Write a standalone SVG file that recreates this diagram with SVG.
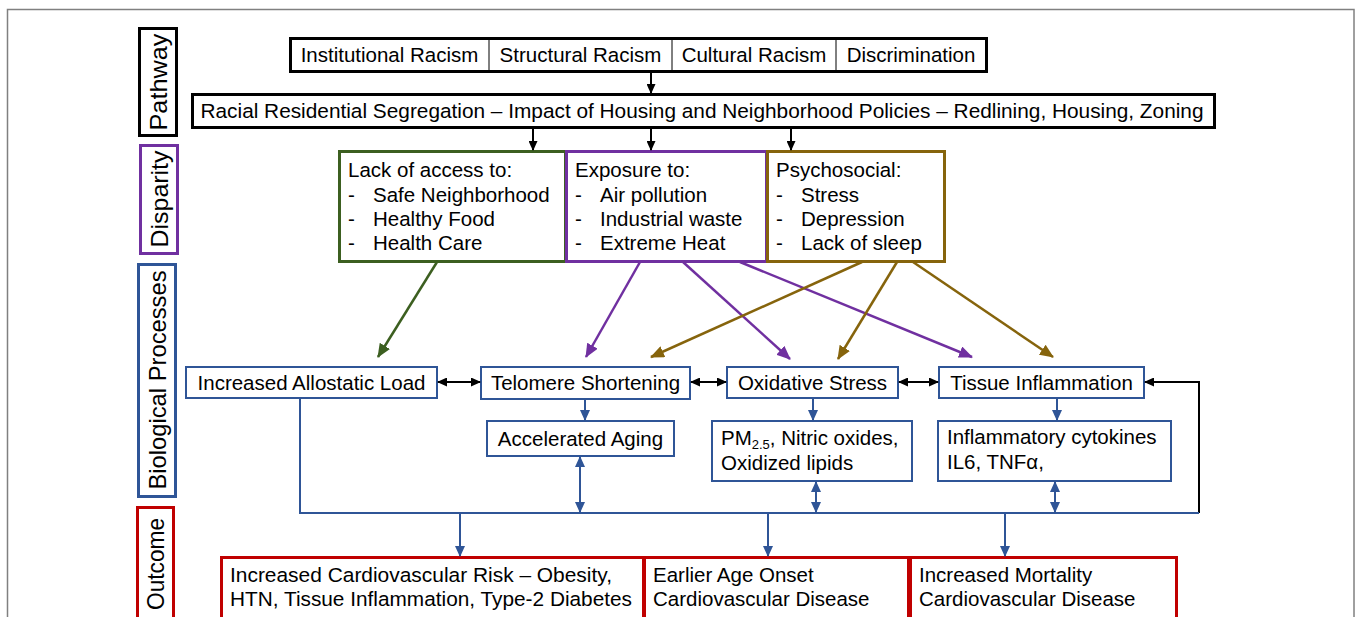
<svg xmlns="http://www.w3.org/2000/svg" width="1359" height="617" viewBox="0 0 1359 617">
<style>
text{font-family:"Liberation Sans",Arial,sans-serif;font-size:20.5px;fill:#000}
.lab{font-size:24px}
.bk{fill:#fff;stroke:#000;stroke-width:3}
.pu{fill:#fff;stroke:#7030a0;stroke-width:3}
.gr{fill:#fff;stroke:#3c5f20;stroke-width:3}
.go{fill:#fff;stroke:#86640c;stroke-width:3}
.bl{fill:#fff;stroke:#2f5597;stroke-width:2}
.bl3{fill:#fff;stroke:#2f5597;stroke-width:3}
.rd{fill:#fff;stroke:#c00000;stroke-width:3}
.c{text-anchor:middle}
.lk{fill:none;stroke:#000;stroke-width:2}
.lb{fill:none;stroke:#2f5597;stroke-width:2}
.lp{fill:none;stroke:#7030a0;stroke-width:2.5}
.lg{fill:none;stroke:#3c5f20;stroke-width:2.5}
.lo{fill:none;stroke:#86640c;stroke-width:2.5}
</style>
<defs>
<marker id="ak" markerUnits="userSpaceOnUse" markerWidth="10" markerHeight="9" refX="9" refY="4.5" orient="auto-start-reverse"><path d="M0,0 L10,4.5 L0,9 z" fill="#000"/></marker>
<marker id="ab" markerUnits="userSpaceOnUse" markerWidth="11" markerHeight="10" refX="10" refY="5" orient="auto-start-reverse"><path d="M0,0 L11,5 L0,10 z" fill="#2f5597"/></marker>
<marker id="ap" markerUnits="userSpaceOnUse" markerWidth="14" markerHeight="12" refX="13" refY="6" orient="auto"><path d="M0,0 L14,6 L0,12 z" fill="#7030a0"/></marker>
<marker id="ag" markerUnits="userSpaceOnUse" markerWidth="14" markerHeight="12" refX="13" refY="6" orient="auto"><path d="M0,0 L14,6 L0,12 z" fill="#3c5f20"/></marker>
<marker id="ao" markerUnits="userSpaceOnUse" markerWidth="14" markerHeight="12" refX="13" refY="6" orient="auto"><path d="M0,0 L14,6 L0,12 z" fill="#86640c"/></marker>
</defs>
<rect x="7.5" y="9.5" width="1346.5" height="620" fill="#fff" stroke="#808080" stroke-width="1.5"/>

<g id="label-pathway"><rect class="bk" x="139.5" y="28.5" width="37" height="107"/><text class="c lab" transform="translate(158,82) rotate(-90)" dy="0.36em" textLength="97" lengthAdjust="spacingAndGlyphs">Pathway</text></g>
<g id="label-disparity"><rect class="pu" x="140.5" y="145.5" width="37" height="108"/><text class="c lab" transform="translate(159,199) rotate(-90)" dy="0.36em" textLength="97" lengthAdjust="spacingAndGlyphs">Disparity</text></g>
<g id="label-bio"><rect class="bl3" x="138.5" y="264.5" width="37" height="232"/><text class="c lab" transform="translate(157,380) rotate(-90)" dy="0.36em" textLength="219" lengthAdjust="spacingAndGlyphs">Biological Processes</text></g>
<g id="label-outcome"><rect class="rd" x="137.5" y="507.5" width="36" height="120"/><text class="c lab" transform="translate(155,564) rotate(-90)" dy="0.36em" textLength="92" lengthAdjust="spacingAndGlyphs">Outcome</text></g>

<g id="n-racism">
<rect class="bk" x="290.5" y="38.5" width="696" height="33"/>
<line x1="489" y1="39" x2="489" y2="71" stroke="#000" stroke-width="1"/>
<line x1="672" y1="39" x2="672" y2="71" stroke="#000" stroke-width="1"/>
<line x1="836" y1="39" x2="836" y2="71" stroke="#000" stroke-width="1"/>
<text class="c" x="389.5" y="62">Institutional Racism</text>
<text class="c" x="580.5" y="62">Structural Racism</text>
<text class="c" x="754" y="62">Cultural Racism</text>
<text class="c" x="911" y="62">Discrimination</text>
</g>
<g id="n-segregation">
<rect class="bk" x="192.5" y="94.5" width="1022" height="33"/>
<text class="c" x="702" y="118" textLength="1003" lengthAdjust="spacingAndGlyphs">Racial Residential Segregation – Impact of Housing and Neighborhood Policies – Redlining, Housing, Zoning</text>
</g>

<g id="n-access">
<rect class="gr" x="339.5" y="151.5" width="226" height="110"/>
<text x="348" y="177">Lack of access to:</text>
<text x="348" y="202">-</text><text x="373" y="202">Safe Neighborhood</text>
<text x="348" y="226">-</text><text x="373" y="226">Healthy Food</text>
<text x="348" y="250">-</text><text x="373" y="250">Health Care</text>
</g>
<g id="n-exposure">
<rect class="pu" x="566.5" y="151.5" width="200" height="110"/>
<text x="575" y="177">Exposure to:</text>
<text x="575" y="202">-</text><text x="600" y="202">Air pollution</text>
<text x="575" y="226">-</text><text x="600" y="226">Industrial waste</text>
<text x="575" y="250">-</text><text x="600" y="250">Extreme Heat</text>
</g>
<g id="n-psychosocial">
<rect class="go" x="767.5" y="151.5" width="177" height="110"/>
<text x="776" y="177">Psychosocial:</text>
<text x="776" y="202">-</text><text x="801" y="202">Stress</text>
<text x="776" y="226">-</text><text x="801" y="226">Depression</text>
<text x="776" y="250">-</text><text x="801" y="250">Lack of sleep</text>
</g>

<g id="n-allostatic"><rect class="bl" x="186" y="367" width="251" height="31"/><text class="c" x="311.5" y="390">Increased Allostatic Load</text></g>
<g id="n-telomere"><rect class="bl" x="481" y="367" width="209" height="32"/><text class="c" x="585.5" y="390">Telomere Shortening</text></g>
<g id="n-oxidative"><rect class="bl" x="727" y="367" width="171" height="31"/><text class="c" x="812.5" y="390">Oxidative Stress</text></g>
<g id="n-tissue"><rect class="bl" x="939" y="367" width="205" height="31"/><text class="c" x="1041.5" y="390">Tissue Inflammation</text></g>
<g id="n-aging"><rect class="bl" x="487" y="421" width="187" height="35"/><text class="c" x="580.5" y="446">Accelerated Aging</text></g>
<g id="n-pm"><rect class="bl" x="712" y="421" width="200" height="60"/><text x="721" y="445">PM<tspan font-size="13" dy="4">2.5</tspan><tspan dy="-4">, Nitric oxides,</tspan></text><text x="721" y="470">Oxidized lipids</text></g>
<g id="n-cytokines"><rect class="bl" x="938" y="421" width="233" height="60"/><text x="947" y="444">Inflammatory cytokines</text><text x="947" y="469">IL6, TNFα,</text></g>

<g id="n-risk"><rect class="rd" x="221.5" y="557.5" width="422" height="70"/><text x="230" y="582" textLength="382" lengthAdjust="spacingAndGlyphs">Increased Cardiovascular Risk – Obesity,</text><text x="230" y="606" textLength="402" lengthAdjust="spacingAndGlyphs">HTN, Tissue Inflammation, Type-2 Diabetes</text></g>
<g id="n-onset"><rect class="rd" x="644.5" y="557.5" width="264" height="70"/><text x="653" y="582">Earlier Age Onset</text><text x="653" y="606">Cardiovascular Disease</text></g>
<g id="n-mortality"><rect class="rd" x="910.5" y="557.5" width="266" height="70"/><text x="919" y="582">Increased Mortality</text><text x="919" y="606">Cardiovascular Disease</text></g>

<g id="connectors">
<line class="lk" x1="651" y1="72" x2="651" y2="93" marker-end="url(#ak)"/>
<line class="lk" x1="533" y1="128" x2="533" y2="150" marker-end="url(#ak)"/>
<line class="lk" x1="651" y1="128" x2="651" y2="150" marker-end="url(#ak)"/>
<line class="lk" x1="791" y1="128" x2="791" y2="150" marker-end="url(#ak)"/>
<line class="lk" x1="438" y1="382" x2="480" y2="382" marker-start="url(#ak)" marker-end="url(#ak)"/>
<line class="lk" x1="691" y1="382" x2="726" y2="382" marker-start="url(#ak)" marker-end="url(#ak)"/>
<line class="lk" x1="899" y1="382" x2="938" y2="382" marker-start="url(#ak)" marker-end="url(#ak)"/>
<polyline class="lk" points="1199,513 1199,382 1145,382" marker-end="url(#ak)"/>

<line class="lg" x1="437" y1="262" x2="378" y2="357" marker-end="url(#ag)"/>
<line class="lp" x1="640" y1="262" x2="586" y2="357" marker-end="url(#ap)"/>
<line class="lp" x1="683" y1="262" x2="790" y2="359" marker-end="url(#ap)"/>
<line class="lp" x1="740" y1="262" x2="972" y2="357" marker-end="url(#ap)"/>
<line class="lo" x1="862" y1="262" x2="651" y2="357" marker-end="url(#ao)"/>
<line class="lo" x1="897" y1="262" x2="838" y2="359" marker-end="url(#ao)"/>
<line class="lo" x1="913" y1="262" x2="1053" y2="357" marker-end="url(#ao)"/>

<polyline class="lb" points="300,398 300,513 1199,513"/>
<line class="lb" x1="585" y1="399" x2="585" y2="420" marker-end="url(#ab)"/>
<line class="lb" x1="813" y1="398" x2="813" y2="420" marker-end="url(#ab)"/>
<line class="lb" x1="1057" y1="398" x2="1057" y2="420" marker-end="url(#ab)"/>
<line class="lb" x1="580" y1="457" x2="580" y2="512" marker-start="url(#ab)" marker-end="url(#ab)"/>
<line class="lb" x1="816" y1="482" x2="816" y2="512" marker-start="url(#ab)" marker-end="url(#ab)"/>
<line class="lb" x1="1055" y1="482" x2="1055" y2="512" marker-start="url(#ab)" marker-end="url(#ab)"/>
<line class="lb" x1="460" y1="513" x2="460" y2="556" marker-end="url(#ab)"/>
<line class="lb" x1="768" y1="513" x2="768" y2="556" marker-end="url(#ab)"/>
<line class="lb" x1="1005" y1="513" x2="1005" y2="556" marker-end="url(#ab)"/>
</g>
</svg>
